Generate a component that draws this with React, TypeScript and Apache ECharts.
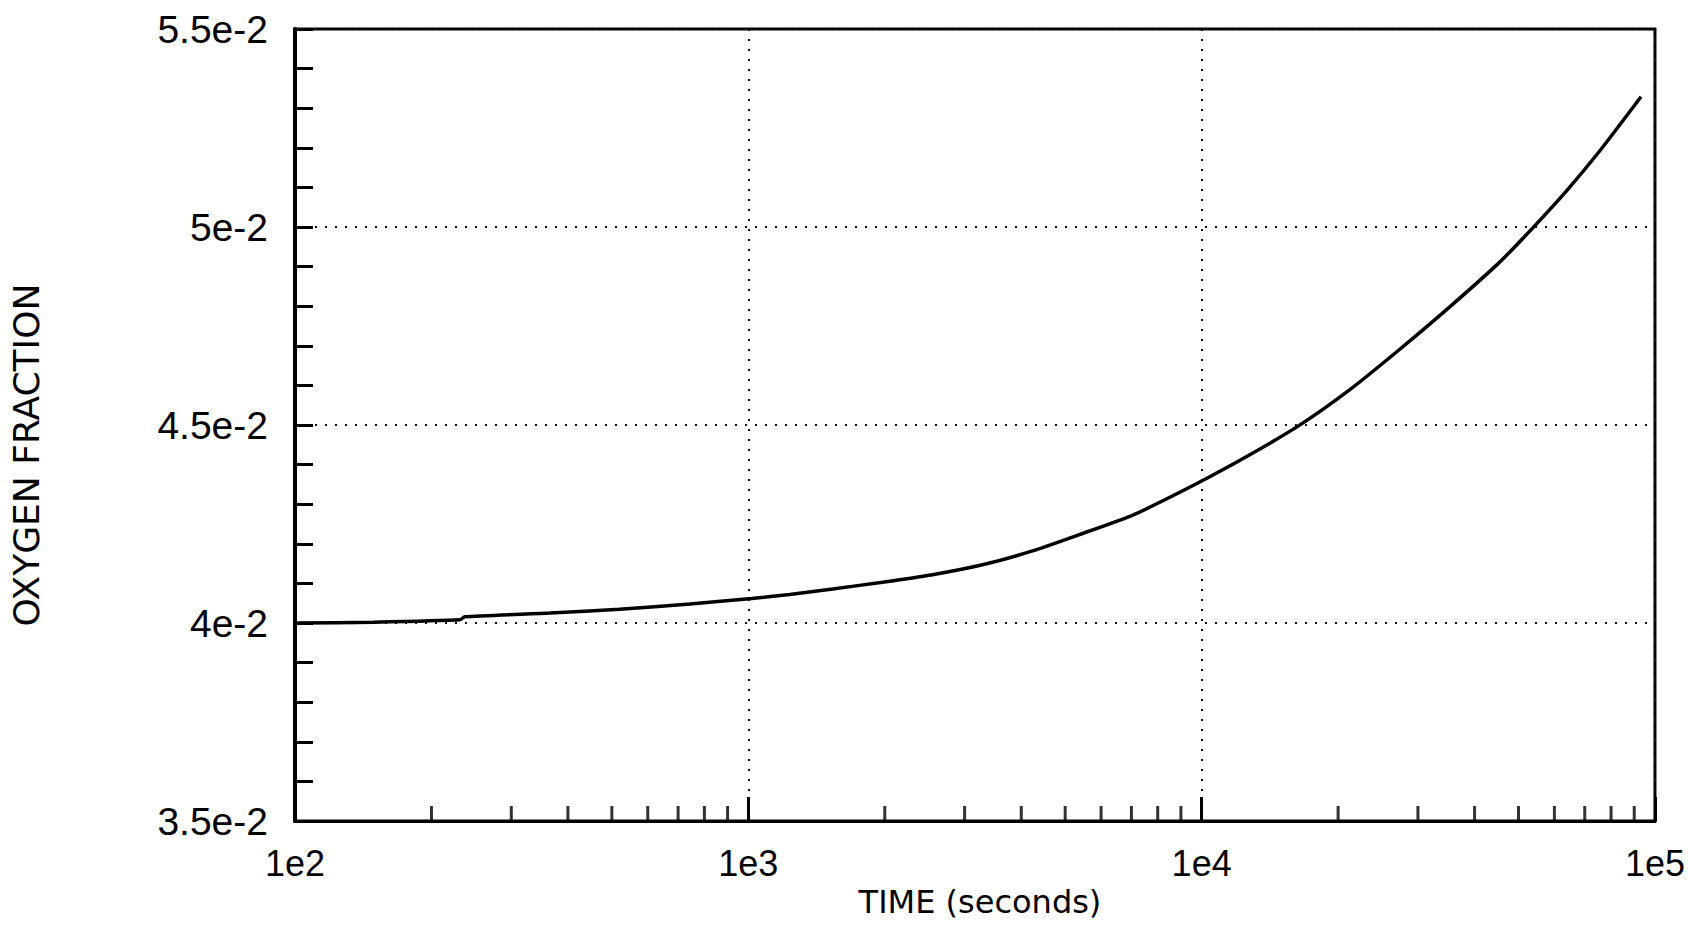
import React, { useEffect, useRef } from "react";
import * as echarts from "echarts";

// ---- data ----
const timeSeconds: number[] = [
  100, 149, 231, 237, 365, 520, 743, 1017, 1234, 1535, 1978, 2549, 3285, 4235,
  5458, 7036, 8360, 10296, 12740, 16420, 21160, 27280, 35160, 45320, 53580,
  63680, 75280, 93160,
];
const oxygenFraction: number[] = [
  0.04, 0.04002, 0.04008, 0.04016, 0.04025, 0.04035, 0.04048, 0.04062, 0.04072,
  0.04086, 0.04103, 0.04122, 0.04147, 0.04182, 0.04226, 0.04272, 0.04313,
  0.04366, 0.04424, 0.04499, 0.04588, 0.0469, 0.04797, 0.0491, 0.04996,
  0.0509, 0.0519, 0.05329,
];

const xTickValues: number[] = [100, 1000, 10000, 100000];
const xTickLabels: string[] = ["1e2", "1e3", "1e4", "1e5"];
const xMinorTicks: number[] = [
  200, 300, 400, 500, 600, 700, 800, 900,
  2000, 3000, 4000, 5000, 6000, 7000, 8000, 9000,
  20000, 30000, 40000, 50000, 60000, 70000, 80000, 90000,
];
const yTickValues: number[] = [0.035, 0.04, 0.045, 0.05, 0.055];
const yTickLabels: string[] = ["3.5e-2", "4e-2", "4.5e-2", "5e-2", "5.5e-2"];

const xTitle = "TIME (seconds)";
const yTitle = "OXYGEN FRACTION";

export default function App() {
  const ref = useRef<HTMLDivElement>(null);

  useEffect(() => {
    if (!ref.current) return;
    const chart = echarts.init(ref.current, undefined, { renderer: "svg" });

    chart.setOption({
      animation: false,
      backgroundColor: "#fff",
      grid: {
        left: 295,
        top: 29,
        width: 1361,
        height: 792,
        show: true,
        borderColor: "#000",
        borderWidth: 3,
        backgroundColor: "transparent",
      },
      graphic: [
        {
          type: "text",
          x: 26,
          y: 455,
          rotation: Math.PI / 2,
          style: {
            text: yTitle,
            fontFamily: "DejaVu Sans",
            fontSize: 36,
            fill: "#000",
            textAlign: "center",
            textVerticalAlign: "middle",
          },
        },
      ],
      xAxis: {
        type: "log",
        logBase: 10,
        min: 100,
        max: 100000,
        name: xTitle,
        nameLocation: "middle",
        nameGap: 57,
        nameTextStyle: {
          fontFamily: "DejaVu Sans",
          fontSize: 32,
          color: "#000",
          padding: [0, 0, 0, 10],
        },
        axisLine: { show: true, lineStyle: { color: "#000", width: 3 } },
        axisTick: {
          show: true,
          inside: true,
          length: 24,
          lineStyle: { color: "#000", width: 3 },
        },
        axisLabel: {
          fontFamily: "Liberation Sans",
          fontSize: 36,
          color: "#000",
          margin: 24,
          showMinLabel: true,
          showMaxLabel: true,
          formatter: (v: number) => {
            const i = xTickValues.findIndex(
              (t) => Math.abs(Math.log10(t) - Math.log10(v)) < 1e-6
            );
            return i >= 0 ? xTickLabels[i] : "";
          },
        },
        splitLine: {
          show: true,
          lineStyle: { color: "#111", width: 2, type: [2, 8] },
        },
      },
      yAxis: {
        type: "value",
        min: 0.035,
        max: 0.055,
        interval: 0.005,
        axisLine: { show: true, lineStyle: { color: "#000", width: 4 } },
        axisTick: {
          show: true,
          inside: true,
          length: 18,
          lineStyle: { color: "#000", width: 3 },
        },
        minorTick: {
          show: true,
          splitNumber: 5,
          length: 18,
          lineStyle: { color: "#000", width: 3 },
        },
        axisLabel: {
          fontFamily: "Liberation Sans",
          fontSize: 39,
          color: "#000",
          margin: 27,
          formatter: (v: number) => {
            const i = yTickValues.findIndex((t) => Math.abs(t - v) < 1e-9);
            return i >= 0 ? yTickLabels[i] : "";
          },
        },
        splitLine: {
          show: true,
          lineStyle: { color: "#111", width: 2, type: [2, 8] },
        },
      },
      series: [
        {
          type: "scatter",
          name: "minor ticks",
          silent: true,
          clip: false,
          symbol: "rect",
          symbolSize: [3, 15],
          symbolOffset: [0, -7.5],
          itemStyle: { color: "#000" },
          data: xMinorTicks.map((t) => [t, 0.035]),
          z: 3,
        },
        {
          type: "line",
          name: "Oxygen fraction",
          showSymbol: false,
          symbol: "none",
          smooth: 0.2,
          lineStyle: { color: "#000", width: 3.5 },
          data: timeSeconds.map((t, i) => [t, oxygenFraction[i]]),
          z: 4,
        },
      ],
    });

    return () => chart.dispose();
  }, []);

  return (
    <div
      ref={ref}
      style={{
        position: "absolute",
        left: 0,
        top: 0,
        width: 1688,
        height: 925,
        background: "#fff",
      }}
    />
  );
}
